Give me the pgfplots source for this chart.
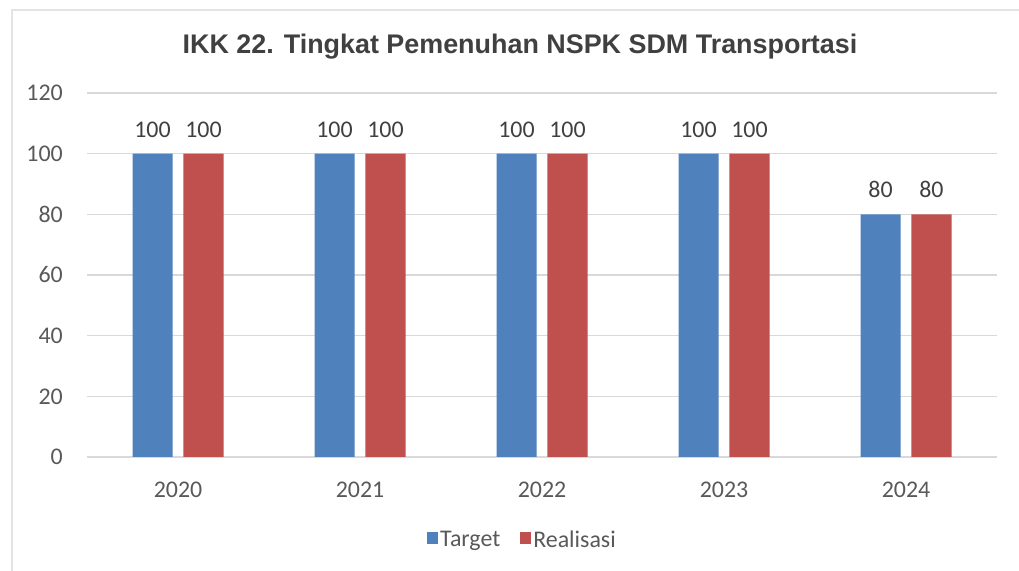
\documentclass[border=0pt]{standalone}
\usepackage{pgfplots}
\pgfplotsset{compat=1.18}
\usepackage{fontspec}
\setmainfont{Carlito}
\newfontfamily\titlefont{Liberation Sans}
\definecolor{cblue}{HTML}{4F81BD}
\definecolor{cred}{HTML}{C0504D}
\definecolor{cgrid}{HTML}{D9D9D9}
\definecolor{ctext}{HTML}{595959}
\definecolor{ctitle}{HTML}{404040}
\begin{document}
\begin{tikzpicture}[x=1bp,y=1bp]
\useasboundingbox (0bp,0bp) rectangle (1019bp,571bp);
\fill[white] (0bp,0bp) rectangle (1019bp,571bp);
\draw[color=cgrid!70,line width=1.2bp] (12bp,0bp) -- (12bp,561bp) -- (1019bp,561bp);
\node[font=\titlefont\bfseries\fontsize{27}{30}\selectfont, text=ctitle] at (520bp,524bp) {IKK 22. Tingkat Pemenuhan NSPK SDM Transportasi};
\begin{axis}[
  at={(87bp,114bp)}, anchor=south west,
  scale only axis, width=910bp, height=364bp,
  xmin=-0.5, xmax=4.5, ymin=0, ymax=120,
  ytick={0,20,...,120},
  xtick={0,1,2,3,4},
  xticklabels={2020,2021,2022,2023,2024},
  ymajorgrids, grid style={color=cgrid, line width=1.3bp},
  axis line style={draw=none},
  major tick length=0pt,
  /pgf/number format/assume math mode=true,
  tick label style={font=\fontsize{24}{27}\selectfont, text=ctext},
  yticklabel style={anchor=east, inner sep=0pt, xshift=-24bp},
  xticklabel style={anchor=north, inner sep=0pt, yshift=-25bp},
  ybar, bar width=0.22,
  nodes near coords,
  every node near coord/.append style={font=\fontsize{24}{27}\selectfont, text=ctitle, anchor=south, inner sep=0pt, yshift=16bp},
  legend style={at={(0.4786,-0.228)}, anchor=center, draw=none, fill=none,
    legend columns=2, font=\fontsize{24}{27}\selectfont, text=ctext,
    nodes={inner sep=2.5bp},
    /tikz/every even column/.append style={column sep=17bp}},
  legend image code/.code={\fill[#1] (0bp,-4bp) rectangle (11bp,8bp);},
]
\addplot[fill=cblue, draw=none, bar shift=-0.14] coordinates {(0,100) (1,100) (2,100) (3,100) (4,80)};
\addplot[fill=cred, draw=none, bar shift=0.14] coordinates {(0,100) (1,100) (2,100) (3,100) (4,80)};
\legend{Target, Realisasi}
\end{axis}
\end{tikzpicture}
\end{document}
